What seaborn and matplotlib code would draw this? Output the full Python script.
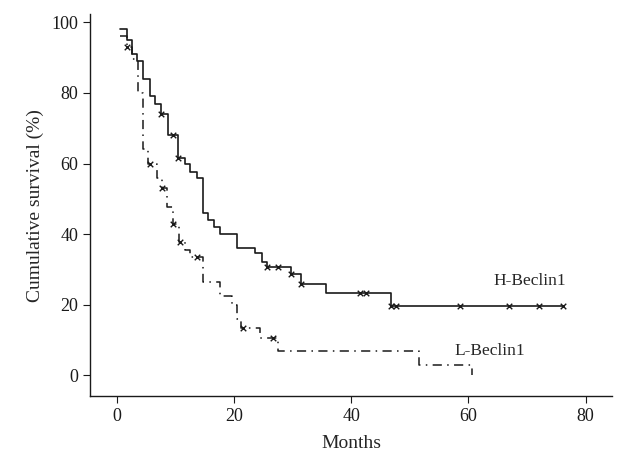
import pandas as pd
import matplotlib.pyplot as plt
import seaborn as sns

# Kaplan-Meier steps (months, cumulative survival %)
h_months = [0.5, 1.7, 2.6, 3.4, 4.4, 5.6, 6.5, 7.6, 8.7, 10.4, 11.6, 12.5, 13.6,
            14.7, 15.5, 16.5, 17.6, 20.5, 23.5, 24.7, 25.6, 29.7, 31.4, 35.7, 46.8, 76.1]
h_surv = [98, 95, 91, 89, 84, 79, 77, 74, 68, 61.5, 60, 57.5, 55.8,
          46, 44, 42, 40, 36, 34.6, 32, 30.6, 28.6, 26, 23.3, 19.7, 19.7]
h_cens_months = [7.6, 9.6, 10.4, 25.6, 27.5, 29.7, 31.4, 41.5, 42.5, 46.8, 47.7, 58.5, 66.9, 72, 76.1]
h_cens_surv = [74, 68, 61.5, 30.6, 30.6, 28.6, 26, 23.3, 23.3, 19.7, 19.7, 19.7, 19.7, 19.7, 19.7]

l_months = [0.5, 1.7, 2.6, 3.6, 4.4, 5.3, 6.8, 7.7, 8.5, 9.6, 10.6, 11.6, 12.5,
            14.7, 17.6, 19.6, 20.5, 21.2, 24.5, 27.5, 51.6, 60.6]
l_surv = [96, 93, 89.5, 80, 64, 60, 56, 53, 47.6, 43, 37.7, 35.4, 33.4,
          26.4, 22.5, 20, 16, 13.3, 10.5, 6.8, 2.8, 0]
l_cens_months = [1.7, 5.6, 7.7, 9.6, 10.8, 13.6, 21.5, 26.6]
l_cens_surv = [93, 60, 53, 43, 37.7, 33.4, 13.3, 10.5]

x_ticks = [0, 20, 40, 60, 80]
y_ticks = [0, 20, 40, 60, 80, 100]

sns.set_style('ticks')
plt.rcParams['font.family'] = ['Liberation Serif', 'DejaVu Serif']

fig = plt.figure(figsize=(6.2, 4.59), dpi=100)
ax = fig.add_axes([0.145, 0.137, 0.842, 0.832])

h = pd.DataFrame({'m': h_months, 's': h_surv})
l = pd.DataFrame({'m': l_months, 's': l_surv})

sns.lineplot(data=h, x='m', y='s', ax=ax, color='#1a1a1a', linewidth=1.2,
             drawstyle='steps-post', estimator=None, sort=False)
sns.lineplot(data=l, x='m', y='s', ax=ax, color='#1a1a1a', linewidth=1.1,
             drawstyle='steps-post', estimator=None, sort=False,
             linestyle=(0, (6, 3.5, 1, 3.5)))

ax.scatter(h_cens_months, h_cens_surv, marker='x', s=16, color='#1a1a1a', linewidths=1.0, zorder=3)
ax.scatter(l_cens_months, l_cens_surv, marker='x', s=16, color='#1a1a1a', linewidths=1.0, zorder=3)

ax.text(70.5, 26.6, 'H-Beclin1', fontsize=12.5, ha='center', va='center')
ax.text(63.6, 7, 'L-Beclin1', fontsize=12.5, ha='center', va='center')

ax.set_xlim(-4.6, 84.5)
ax.set_ylim(-5.9, 102.3)
ax.set_xticks(x_ticks)
ax.set_yticks(y_ticks)
ax.set_xlabel('Months', fontsize=14, labelpad=7)
ax.set_ylabel('Cumulative survival (%)', fontsize=14, labelpad=5)
ax.tick_params(labelsize=13, length=5, width=0.8, colors='#1a1a1a')
for sp in ['left', 'bottom']:
    ax.spines[sp].set_linewidth(1.0)
    ax.spines[sp].set_color('#1a1a1a')
sns.despine(ax=ax)

fig.savefig('out.png', dpi=100)
